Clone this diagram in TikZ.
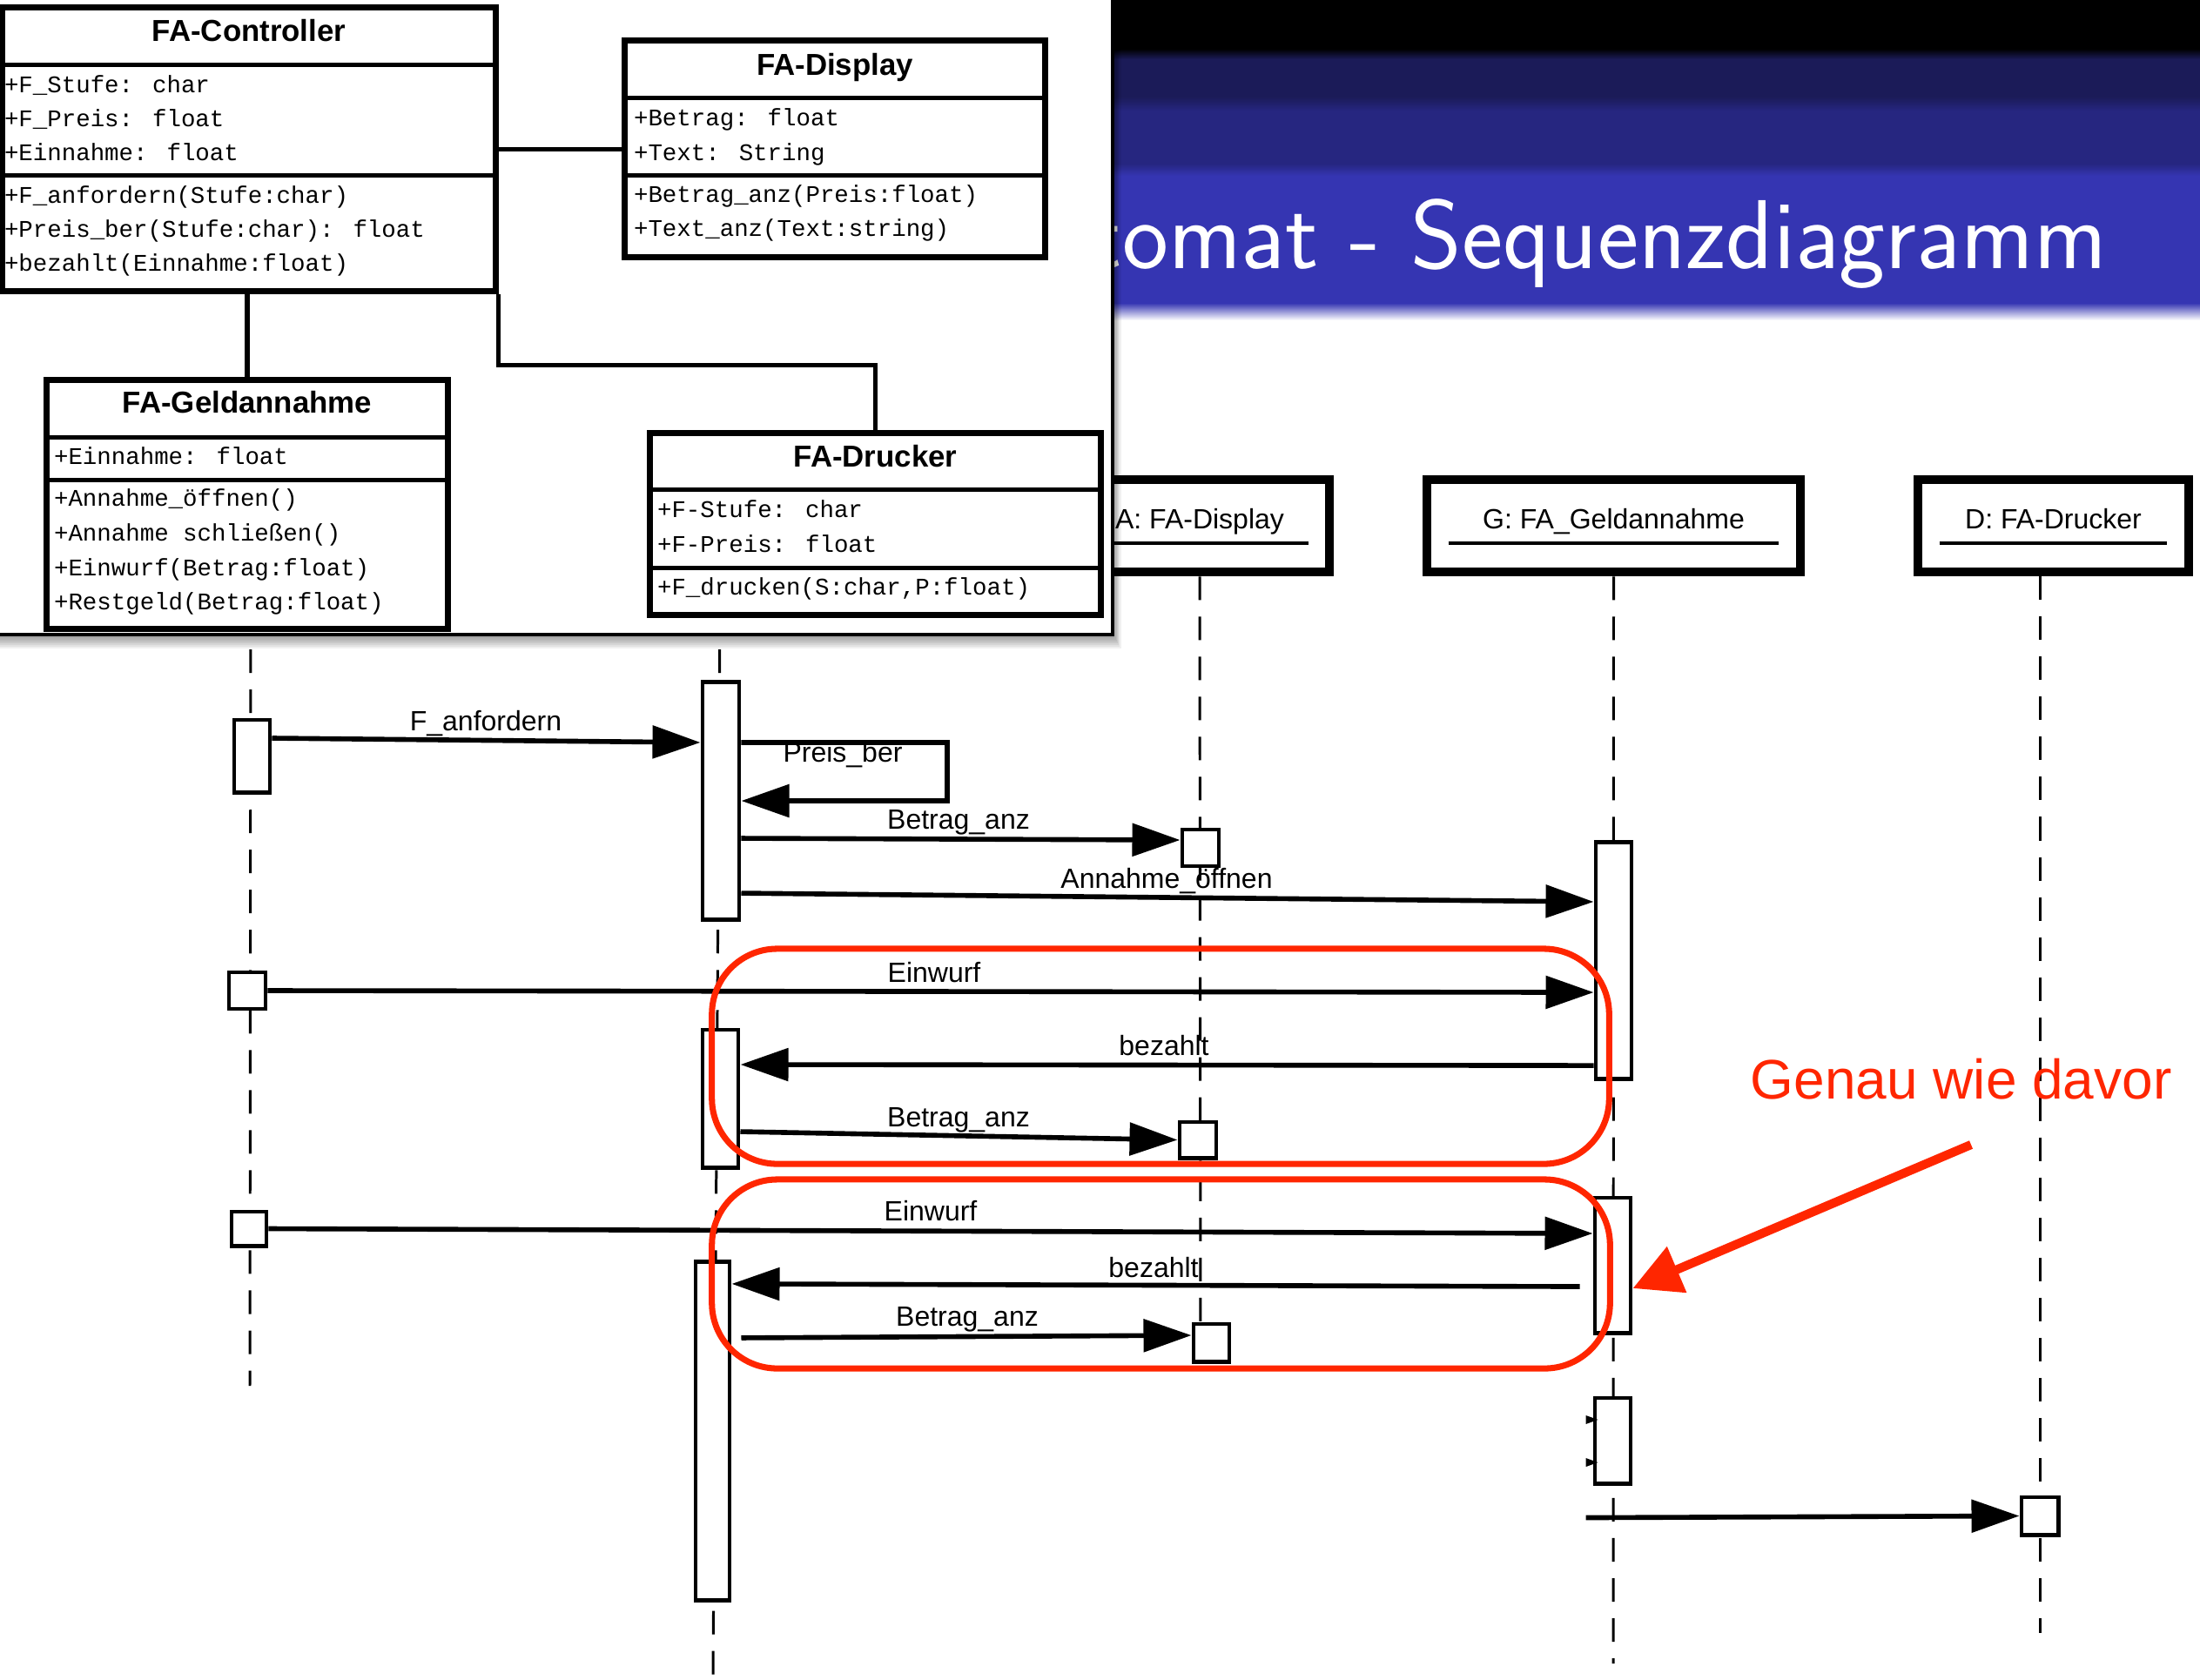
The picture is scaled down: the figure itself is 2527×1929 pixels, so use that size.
\documentclass[tikz,border=0pt]{standalone}
\usepackage{fontspec}
\newfontfamily\umlsans{Liberation Sans}
\newfontfamily\umlmono{Liberation Mono}
\usetikzlibrary{arrows.meta}

\definecolor{hdrA}{RGB}{27,27,88}
\definecolor{hdrB}{RGB}{38,38,128}
\definecolor{hdrC}{RGB}{53,53,178}
\definecolor{markred}{RGB}{255,38,0}

\tikzset{
	headbox/.style={draw, line width=3pt, minimum height=1.06cm, inner sep=0pt},
	actbox/.style={draw, fill=white, line width=1.4pt, minimum width=0.41cm, inner sep=0pt},
	lifeline/.style={line width=0.85pt, dash pattern=on 0.27cm off 0.19cm},
	msg/.style={line width=1.6pt, -{Triangle[length=0.55cm,width=0.37cm]}},
	msglbl/.style={font=\umlsans\fontsize{9.1}{11}\selectfont, inner sep=0pt, anchor=base},
	classbox/.style={draw, fill=white, line width=2pt, inner sep=0pt},
	classtitle/.style={font=\umlsans\bfseries\fontsize{9.9}{12}\selectfont, inner sep=0pt, anchor=base},
	member/.style={font=\umlmono\fontsize{7.8}{9}\selectfont, inner sep=0pt, anchor=base west},
	assoc/.style={line width=1.5pt},
	redframe/.style={draw=markred, line width=2pt, rounded corners=0.75cm, inner sep=0pt},
	redarrow/.style={draw=markred, line width=2.9pt, -{Triangle[length=0.55cm,width=0.55cm]}}
}

\begin{document}
\begin{tikzpicture}[x=0.01cm, y=-0.01cm]
	\useasboundingbox (0,0) rectangle (2527,1929);
	\clip (0,0) rectangle (2527,1929);

	%% header band
	\fill[black] (0,0) rectangle (2527,56);
	\shade[top color=black, bottom color=hdrA] (0,56) rectangle (2527,68);
	\fill[hdrA] (0,68) rectangle (2527,111);
	\shade[top color=hdrA, bottom color=hdrB] (0,111) rectangle (2527,127);
	\fill[hdrB] (0,127) rectangle (2527,188);
	\shade[top color=hdrB, bottom color=hdrC] (0,188) rectangle (2527,202);
	\fill[hdrC] (0,202) rectangle (2527,348);
	\shade[top color=hdrC, bottom color=white] (0,348) rectangle (2527,368);
	\node[anchor=base east, inner sep=0pt, text=white, font=\sffamily\fontsize{32}{38}\selectfont]
		(title) at (2421,308) {tomat - Sequenzdiagramm};

	%% lifeline heads
	\node[headbox, minimum width=2.98cm] (hA) at (1378,604) {};
	\node[headbox, minimum width=4.29cm] (hG) at (1853.5,604) {};
	\node[headbox, minimum width=3.11cm] (hD) at (2358.5,604) {};
	\node[msglbl] (tA) at ([yshift=-0.03cm]hA.center) {A: FA-Display};
	\node[msglbl] (tG) at ([yshift=-0.03cm]hG.center) {G: FA\_Geldannahme};
	\node[msglbl] (tD) at ([yshift=-0.03cm]hD.center) {D: FA-Drucker};
	\draw[line width=1.4pt] ([xshift=0.29cm,yshift=-0.2cm]hA.west) -- ([xshift=-0.29cm,yshift=-0.2cm]hA.east);
	\draw[line width=1.4pt] ([xshift=0.3cm,yshift=-0.2cm]hG.west) -- ([xshift=-0.3cm,yshift=-0.2cm]hG.east);
	\draw[line width=1.4pt] ([xshift=0.3cm,yshift=-0.2cm]hD.west) -- ([xshift=-0.3cm,yshift=-0.2cm]hD.east);

	%% lifelines
	\coordinate (kTop) at (288,700);
	\coordinate (kEnd) at (287,1592);
	\coordinate (sTop) at (827,700);
	\coordinate (sEnd) at (819,1929);
	\coordinate (aEnd) at (1379,1565);
	\coordinate (gEnd) at (1853,1911);
	\coordinate (dEnd) at (2343,1876);
	\draw[lifeline] (kTop) -- (kEnd);
	\draw[lifeline] (sTop) -- (sEnd);
	\draw[lifeline] (hA.south) -- (aEnd);
	\draw[lifeline] (hG.south) -- (gEnd);
	\draw[lifeline] (hD.south -| dEnd) -- (dEnd);

	%% activations
	\node[actbox, minimum height=0.83cm] (k1) at (289.5,868.5) {};
	\node[actbox, minimum width=0.42cm, minimum height=0.42cm] (k2) at (284,1138) {};
	\node[actbox, minimum width=0.40cm, minimum height=0.39cm] (k3) at (286,1411.5) {};
	\node[actbox, minimum width=0.42cm, minimum height=2.72cm] (s1) at (828,920) {};
	\node[actbox, minimum height=1.58cm] (s2) at (827.5,1262) {};
	\node[actbox, minimum width=0.39cm, minimum height=3.88cm] (s3) at (818.5,1644) {};
	\node[actbox, minimum width=0.42cm, minimum height=0.42cm] (a1) at (1379,974) {};
	\node[actbox, minimum width=0.42cm, minimum height=0.41cm] (a2) at (1376,1309.5) {};
	\node[actbox, minimum width=0.41cm, minimum height=0.43cm] (a3) at (1391.5,1542.5) {};
	\node[actbox, minimum height=2.71cm] (g1) at (1853.5,1103.5) {};
	\node[actbox, minimum height=1.55cm] (g2) at (1852.5,1453.5) {};
	\node[actbox, minimum height=0.98cm] (g3) at (1852.5,1655) {};
	\node[actbox, minimum width=0.42cm, minimum height=0.43cm] (d1) at (2343,1741.5) {};

	%% messages
	\draw[msg] ([yshift=0.205cm]k1.east) -- ([yshift=0.67cm]s1.west);
	\node[msglbl] (lFan) at (558,839) {F\_anfordern};
	\coordinate (pbLoop) at (1088,853);
	\draw[msg] ([yshift=0.67cm]s1.east) -- (pbLoop) |- (s1.east);
	\node[msglbl] (lPb) at (968,875) {Preis\_ber};
	\draw[msg] ([yshift=-0.43cm]s1.east) -- ([yshift=0.09cm]a1.west);
	\node[msglbl] (lBa1) at (1101,952) {Betrag\_anz};
	\draw[msg] ([yshift=-1.06cm]s1.east) -- ([yshift=0.675cm]g1.west);
	\node[msglbl] (lAo) at (1340,1020) {Annahme\_öffnen};
	\draw[msg] (k2.east) -- ([yshift=-0.365cm]g1.west);
	\node[msglbl] (lEw1) at (1073,1128) {Einwurf};
	\draw[msg] ([yshift=-1.205cm]g1.west) -- ([yshift=0.39cm]s2.east);
	\node[msglbl] (lBz1) at (1337,1212) {bezahlt};
	\draw[msg] ([yshift=-0.38cm]s2.east) -- (a2.west);
	\node[msglbl] (lBa2) at (1101,1294) {Betrag\_anz};
	\draw[msg] (k3.east) -- ([yshift=0.365cm]g2.west);
	\node[msglbl] (lEw2) at (1069,1402) {Einwurf};
	\draw[msg] ([xshift=-0.15cm,yshift=-0.245cm]g2.west) -- ([yshift=1.69cm]s3.east);
	\node[msglbl] (lBz2) at (1325,1467) {bezahlt};
	\draw[msg] ([xshift=0.11cm,yshift=1.07cm]s3.east) -- ([yshift=0.085cm]a3.west);
	\node[msglbl] (lBa3) at (1111,1523) {Betrag\_anz};
	\fill ([xshift=-0.08cm,yshift=0.29cm]g3.west) -- ++(14,5) -- ++(-14,5) -- cycle;
	\fill ([xshift=-0.08cm,yshift=-0.2cm]g3.west) -- ++(14,5) -- ++(-14,5) -- cycle;
	\draw[msg] ([xshift=-0.08cm,yshift=-0.37cm]g3.south west) -- (d1.west);

	%% red marks
	\node[redframe, minimum width=10.30cm, minimum height=2.47cm] (grp1) at (1333,1213.5) {};
	\node[redframe, minimum width=10.31cm, minimum height=2.17cm] (grp2) at (1333.5,1463.5) {};
	\node[anchor=base west, inner sep=0pt, text=markred, font=\umlsans\fontsize{18.2}{22}\selectfont]
		(note) at (2010,1262) {Genau wie davor};
	\coordinate (noteArr) at (2264,1315);
	\draw[redarrow] (noteArr) -- ([yshift=-0.265cm]g2.east);

	%% class diagram overlay
	\foreach \s in {2,4,...,16}
		\fill[black, opacity=0.06] (-10,-10) rectangle ({1278+\s*0.6},{729+\s});
	\draw[line width=1.4pt, fill=white] (-10,-10) rectangle (1278,729);

	\node[classbox, minimum width=5.66cm, minimum height=3.25cm] (ctrl) at (286,171.5) {};
	\node[classbox, minimum width=4.82cm, minimum height=2.48cm] (disp) at (959,171) {};
	\node[classbox, minimum width=4.60cm, minimum height=2.85cm] (geld) at (284,579.5) {};
	\node[classbox, minimum width=5.17cm, minimum height=2.08cm] (druck) at (1005.5,602) {};

	\draw[assoc] (ctrl.east) -- (ctrl.east -| disp.west);
	\draw[assoc] (geld.north |- ctrl.south) -- (geld.north);
	\draw[assoc] (ctrl.south east) -- ++(0,82) -| (druck.north);

	\draw[assoc] ([yshift=-0.69cm]ctrl.north west) -- ([yshift=-0.69cm]ctrl.north east);
	\draw[assoc] ([yshift=-1.96cm]ctrl.north west) -- ([yshift=-1.96cm]ctrl.north east);
	\node[classtitle] (ctrlT) at ([yshift=-0.42cm]ctrl.north) {FA-Controller};
	\node[member] (ctrlA1) at ([xshift=0.05cm,yshift=-1.01cm]ctrl.north west) {+F\_Stufe: char};
	\node[member] (ctrlA2) at ([xshift=0.05cm,yshift=-1.40cm]ctrl.north west) {+F\_Preis: float};
	\node[member] (ctrlA3) at ([xshift=0.05cm,yshift=-1.79cm]ctrl.north west) {+Einnahme: float};
	\node[member] (ctrlM1) at ([xshift=0.05cm,yshift=-2.28cm]ctrl.north west) {+F\_anfordern(Stufe:char)};
	\node[member] (ctrlM2) at ([xshift=0.05cm,yshift=-2.67cm]ctrl.north west) {+Preis\_ber(Stufe:char): float};
	\node[member] (ctrlM3) at ([xshift=0.05cm,yshift=-3.06cm]ctrl.north west) {+bezahlt(Einnahme:float)};

	\draw[assoc] ([yshift=-0.69cm]disp.north west) -- ([yshift=-0.69cm]disp.north east);
	\draw[assoc] ([yshift=-1.58cm]disp.north west) -- ([yshift=-1.58cm]disp.north east);
	\node[classtitle] (dispT) at ([yshift=-0.43cm]disp.north) {FA-Display};
	\node[member] (dispA1) at ([xshift=0.13cm,yshift=-1.01cm]disp.north west) {+Betrag: float};
	\node[member] (dispA2) at ([xshift=0.13cm,yshift=-1.41cm]disp.north west) {+Text: String};
	\node[member] (dispM1) at ([xshift=0.13cm,yshift=-1.89cm]disp.north west) {+Betrag\_anz(Preis:float)};
	\node[member] (dispM2) at ([xshift=0.13cm,yshift=-2.28cm]disp.north west) {+Text\_anz(Text:string)};

	\draw[assoc] ([yshift=-0.69cm]geld.north west) -- ([yshift=-0.69cm]geld.north east);
	\draw[assoc] ([yshift=-1.18cm]geld.north west) -- ([yshift=-1.18cm]geld.north east);
	\node[classtitle] (geldT) at ([yshift=-0.41cm]geld.north) {FA-Geldannahme};
	\node[member] (geldA1) at ([xshift=0.11cm,yshift=-1.00cm]geld.north west) {+Einnahme: float};
	\node[member] (geldM1) at ([xshift=0.11cm,yshift=-1.48cm]geld.north west) {+Annahme\_öffnen()};
	\node[member] (geldM2) at ([xshift=0.11cm,yshift=-1.88cm]geld.north west) {+Annahme schließen()};
	\node[member] (geldM3) at ([xshift=0.11cm,yshift=-2.28cm]geld.north west) {+Einwurf(Betrag:float)};
	\node[member] (geldM4) at ([xshift=0.11cm,yshift=-2.67cm]geld.north west) {+Restgeld(Betrag:float)};

	\draw[assoc] ([yshift=-0.68cm]druck.north west) -- ([yshift=-0.68cm]druck.north east);
	\draw[assoc] ([yshift=-1.58cm]druck.north west) -- ([yshift=-1.58cm]druck.north east);
	\node[classtitle] (druckT) at ([yshift=-0.42cm]druck.north) {FA-Drucker};
	\node[member] (druckA1) at ([xshift=0.11cm,yshift=-1.00cm]druck.north west) {+F-Stufe: char};
	\node[member] (druckA2) at ([xshift=0.11cm,yshift=-1.40cm]druck.north west) {+F-Preis: float};
	\node[member] (druckM1) at ([xshift=0.11cm,yshift=-1.89cm]druck.north west) {+F\_drucken(S:char,P:float)};
\end{tikzpicture}
\end{document}
